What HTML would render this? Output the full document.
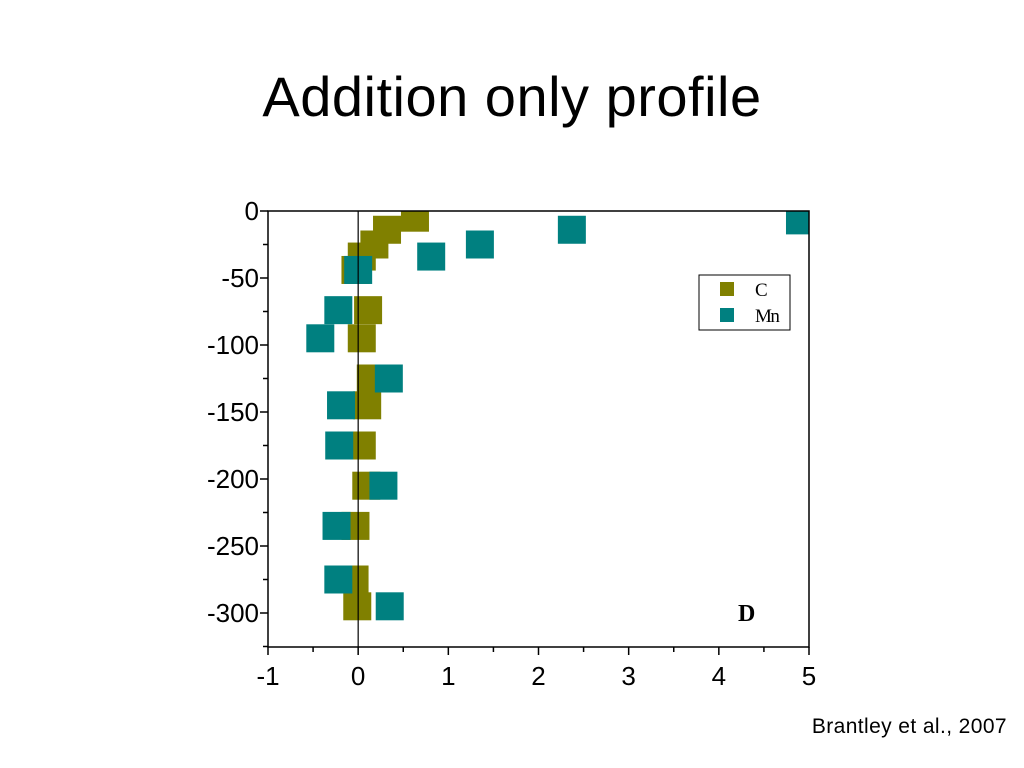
<!DOCTYPE html>
<html><head><meta charset="utf-8"><style>
body{margin:0;background:#fff;width:1024px;height:768px;overflow:hidden;font-family:"Liberation Sans",sans-serif}
#title{position:absolute;left:0;width:1024px;top:64px;text-align:center;font-size:56px;color:#000;letter-spacing:0.5px}
#cite{position:absolute;right:17px;top:715px;font-size:21px;color:#000;letter-spacing:0.4px}
</style></head><body>
<div id="title">Addition only profile</div>
<div id="cite">Brantley et al., 2007</div>
<svg id="chart" width="1024" height="768" style="position:absolute;left:0;top:0"></svg>
<script>
const cDepth=[-5,-14,-25,-34,-44,-74,-95,-125,-145,-175,-205,-235,-275,-295];
const cValues=[0.63,0.32,0.18,0.04,-0.03,0.11,0.04,0.14,0.1,0.04,0.09,-0.03,-0.04,-0.01];
const mnDepth=[-7,-14,-25,-34,-44,-74,-95,-125,-145,-175,-205,-235,-275,-295];
const mnValues=[4.9,2.37,1.35,0.81,0.0,-0.22,-0.42,0.34,-0.19,-0.21,0.28,-0.24,-0.22,0.35];
const xTicks=[-1,0,1,2,3,4,5];
const yTicks=[0,-50,-100,-150,-200,-250,-300];
const NS="http://www.w3.org/2000/svg";
const svg=document.getElementById('chart');
const L=268,R=809,T=211,B=647;
const xs=v=>L+(v+1)*(R-L)/6;
const ys=v=>T+(-v)*(613-211)/300;
function mk(tag,attrs,parent){const e=document.createElementNS(NS,tag);for(const k in attrs)e.setAttribute(k,attrs[k]);(parent||svg).appendChild(e);return e;}
const defs=mk('defs',{});const cp=mk('clipPath',{id:'clip'},defs);mk('rect',{x:L,y:T,width:R-L,height:B-T},cp);
const g=mk('g',{'clip-path':'url(#clip)'});

const S=28;
cValues.forEach((v,i)=>{const r=mk('rect',{x:xs(v)-S/2,y:ys(cDepth[i])-S/2,width:S,height:S,fill:'#808000'},g);
});
mnValues.forEach((v,i)=>{const r=mk('rect',{x:xs(v)-S/2,y:ys(mnDepth[i])-S/2,width:S,height:S,fill:'#008080'},g);
});
const zl=mk('line',{x1:xs(0),x2:xs(0),y1:T,y2:B,stroke:'#000','stroke-width':1.2});

const fr=mk('rect',{x:L,y:T,width:R-L,height:B-T,fill:'none',stroke:'#000','stroke-width':1.5});

xTicks.forEach((v,i)=>{const x=xs(v);mk('line',{x1:x,x2:x,y1:B,y2:B+8,stroke:'#000','stroke-width':1.5});
if(i<xTicks.length-1){const xm=xs(v+0.5);mk('line',{x1:xm,x2:xm,y1:B,y2:B+5,stroke:'#000','stroke-width':1.5});}
const t=mk('text',{x:x,y:B+38,'text-anchor':'middle','font-size':26,fill:'#000'});t.textContent=v;
});
yTicks.forEach((v,i)=>{const y=ys(v);mk('line',{x1:L-8,x2:L,y1:y,y2:y,stroke:'#000','stroke-width':1.5});
const ym=ys(v-25);if(ym<B)mk('line',{x1:L-5,x2:L,y1:ym,y2:ym,stroke:'#000','stroke-width':1.5});
const t=mk('text',{x:L-9,y:y+9,'text-anchor':'end','font-size':26,fill:'#000'});t.textContent=v;
});
const lg=mk('g',{});
mk('rect',{x:699,y:275,width:91,height:55,fill:'#fff',stroke:'#000','stroke-width':1},lg);
mk('rect',{x:720,y:282,width:14,height:14,fill:'#808000'},lg);
mk('rect',{x:720,y:308,width:14,height:14,fill:'#008080'},lg);
const t1=mk('text',{x:755,y:296,'font-family':'Liberation Serif,serif','font-size':19},lg);t1.textContent='C';
const t2=mk('text',{x:755,y:322,'font-family':'Liberation Serif,serif','font-size':19,'letter-spacing':-1.5},lg);t2.textContent='Mn';
const d=mk('text',{x:738,y:621,'font-family':'Liberation Serif,serif','font-size':24,'font-weight':'bold'});d.textContent='D';

</script>
</body></html>
